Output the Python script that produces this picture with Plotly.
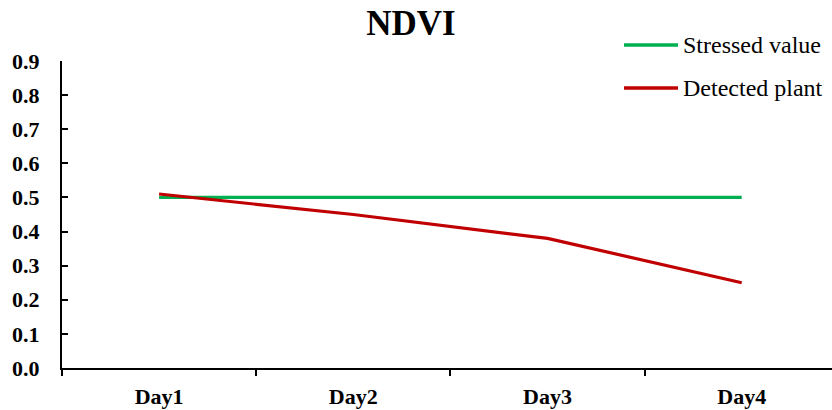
import plotly.graph_objects as go

days = ["Day1", "Day2", "Day3", "Day4"]
stressed_value = [0.5, 0.5, 0.5, 0.5]
detected_plant = [0.51, 0.45, 0.38, 0.25]
y_ticks = [0.0, 0.1, 0.2, 0.3, 0.4, 0.5, 0.6, 0.7, 0.8, 0.9]

GREEN = "#00B050"
RED = "#C00000"
FONT = "Liberation Serif, Times New Roman, serif"

W, H = 832, 410
top, bottom, left = 61, 42, 62
ph = H - top - bottom
pw = W - left

fig = go.Figure()
fig.add_trace(go.Scatter(x=days, y=stressed_value, mode="lines", name="Stressed value",
                         line=dict(color=GREEN, width=3.2), showlegend=False))
fig.add_trace(go.Scatter(x=days, y=detected_plant, mode="lines", name="Detected plant",
                         line=dict(color=RED, width=3.2), showlegend=False))

# Legend drawn as line swatches plus text labels in the top-right corner
legend_items = [("Stressed value", GREEN, 45), ("Detected plant", RED, 88)]
for label, color, ypx in legend_items:
    yp = (H - bottom - ypx) / ph
    fig.add_shape(type="line", xref="paper", yref="paper",
                  x0=(624 - left) / pw, x1=(678 - left) / pw, y0=yp, y1=yp,
                  line=dict(color=color, width=3.5), layer="above")
    fig.add_annotation(xref="paper", yref="paper", x=(683 - left) / pw, y=yp,
                       text=label, showarrow=False, xanchor="left", yanchor="middle",
                       xshift=-2, font=dict(family=FONT, size=24, color="black"))

fig.update_layout(
    width=W, height=H,
    margin=dict(l=left, r=0, t=top, b=bottom),
    paper_bgcolor="white", plot_bgcolor="white",
    font=dict(family=FONT, color="black"),
    title=dict(text="<b>NDVI</b>", x=0.494, xref="container", xanchor="center",
               y=1 - 23 / H, yref="container", yanchor="middle",
               font=dict(family=FONT, size=35, color="black")),
    xaxis=dict(type="category", categoryorder="array", categoryarray=days,
               range=[-0.5, 3.465], showgrid=False, zeroline=False,
               showline=True, linecolor="black", linewidth=2,
               ticks="outside", tickson="boundaries", ticklen=6, tickwidth=2, tickcolor="black",
               tickfont=dict(family=FONT, size=22, color="black", weight="bold"),
               ticklabelstandoff=8),
    yaxis=dict(range=[0, 0.9], tickvals=y_ticks, ticktext=[f"{v:.1f}" for v in y_ticks],
               showgrid=False, zeroline=False,
               showline=True, linecolor="black", linewidth=2,
               ticks="inside", ticklen=6, tickwidth=2, tickcolor="black",
               tickfont=dict(family=FONT, size=22, color="black", weight="bold"),
               ticklabelstandoff=16),
)

fig.write_html("out.html")
